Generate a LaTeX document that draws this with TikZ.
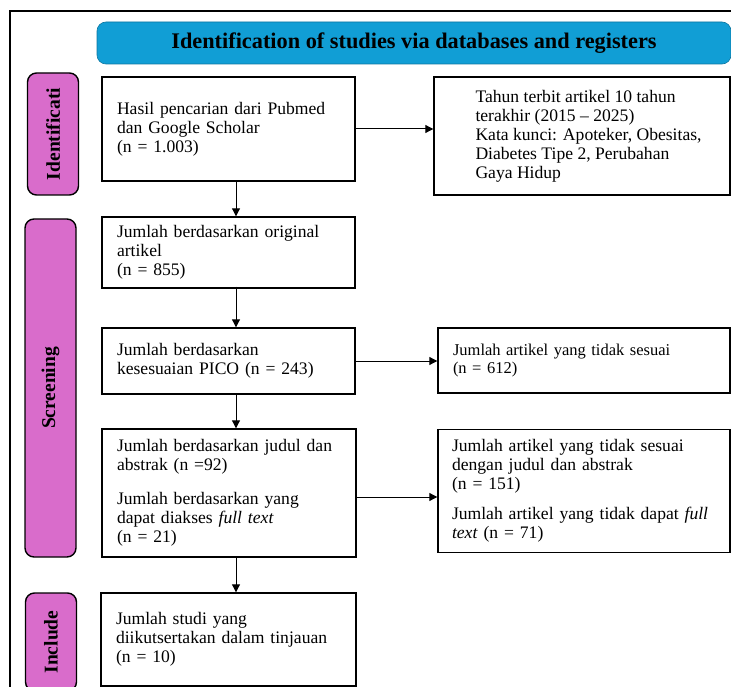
\documentclass[tikz,border=0pt]{standalone}
\usepackage{fontspec}
\setmainfont{Liberation Serif}
\usepackage{tikz}
\usetikzlibrary{arrows.meta, positioning, calc}
\definecolor{headblue}{RGB}{17, 158, 213}
\definecolor{stagepink}{RGB}{217, 108, 203}

\begin{document}
\begin{tikzpicture}[
    x=1pt, y=-1pt,
    every node/.style={font=\fontsize{17.6}{19}\selectfont},
    flowbox/.style={draw, line width=1.4pt, inner xsep=15pt, inner ysep=0pt, align=left},
    stage/.style={draw, line width=1.4pt, fill=stagepink, rounded corners=9pt, rotate=90,
                  minimum height=51pt, inner sep=0pt, font=\bfseries\fontsize{19.5}{20}\selectfont},
    header/.style={draw=headblue!75!black, line width=0.6pt, fill=headblue, rounded corners=9pt,
                   font=\bfseries\fontsize{22.3}{24}\selectfont},
    flow/.style={-{Triangle[length=8pt, width=8pt]}, line width=1pt},
]
  \useasboundingbox (0,0) rectangle (731,687);
  \clip (0,0) rectangle (731,687);

  % Frame
  \draw[line width=1.5pt] (10,720) -- (10,11) -- (760,11);

  % Header
  \node[header, minimum width=634pt, minimum height=42pt] (head) at (414,43)
    {Identification of studies via databases and registers};

  % Stages
  \node[stage, minimum width=122pt] (stIdent) at (53,134) {Identificati};
  \node[stage, minimum width=338pt] (stScreen) at (50.5,388) {Screening};
  \node[stage, minimum width=98pt] (stInclude) at (51,642) {Include};

  % Main column
  \node[flowbox, minimum width=253pt, minimum height=104pt, text width=223pt] (search) at (228.5,129)
    {Hasil pencarian dari Pubmed\\dan Google Scholar\\(n = 1.003)};
  \node[flowbox, minimum width=253pt, minimum height=71pt, text width=223pt] (original) at (228.5,252.5)
    {Jumlah berdasarkan original\\artikel\\(n = 855)};
  \node[flowbox, minimum width=253pt, minimum height=66pt, text width=223pt] (pico) at (228.5,361)
    {Jumlah berdasarkan\\kesesuaian PICO (n = 243)};
  \node[flowbox, minimum width=254pt, minimum height=128pt, text width=224pt] (judul) at (229,493)
    {Jumlah berdasarkan judul dan\\abstrak (n =92)\\[15pt]Jumlah berdasarkan yang\\dapat diakses \textit{full text}\\(n = 21)};
  \node[flowbox, minimum width=255pt, minimum height=93pt, text width=225pt] (studi) at (228.5,639.5)
    {Jumlah studi yang\\diikutsertakan dalam tinjauan\\(n = 10)};

  % Side column
  \node[flowbox, minimum width=296pt, minimum height=118pt] (criteria) at (582,136) {};
  \node[anchor=west, align=left, inner sep=0pt] (criteriaText) at ([xshift=42pt]criteria.west)
    {Tahun terbit artikel 10 tahun\\terakhir (2015 -- 2025)\\Kata kunci: Apoteker, Obesitas,\\Diabetes Tipe 2, Perubahan\\Gaya Hidup};
  \node[flowbox, minimum width=292pt, minimum height=65pt, text width=262pt,
        font=\fontsize{16.5}{18}\selectfont] (notfit) at (584,360.5)
    {Jumlah artikel yang tidak sesuai\\(n = 612)};
  \node[flowbox, minimum width=292pt, minimum height=123pt, inner xsep=14pt, text width=264pt] (excluded) at (584,491)
    {Jumlah artikel yang tidak sesuai\\dengan judul dan abstrak\\(n = 151)\\[11pt]Jumlah artikel yang tidak dapat \textit{full}\\\textit{text} (n = 71)};

  % Arrows
  \coordinate (lane) at (236,0);
  \draw[flow] (search.south -| lane) -- (original.north -| lane);
  \draw[flow] ([yshift=2pt]original.south -| lane) -- (pico.north -| lane);
  \draw[flow] (pico.south -| lane) -- (judul.north -| lane);
  \draw[flow] (judul.south -| lane) -- (studi.north -| lane);
  \draw[flow] (search.east) -- (search.east -| criteria.west);
  \draw[flow] (pico.east) -- (pico.east -| notfit.west);
  \draw[flow] ([yshift=-4pt]judul.east) -- ([yshift=-4pt]judul.east -| excluded.west);
\end{tikzpicture}
\end{document}
